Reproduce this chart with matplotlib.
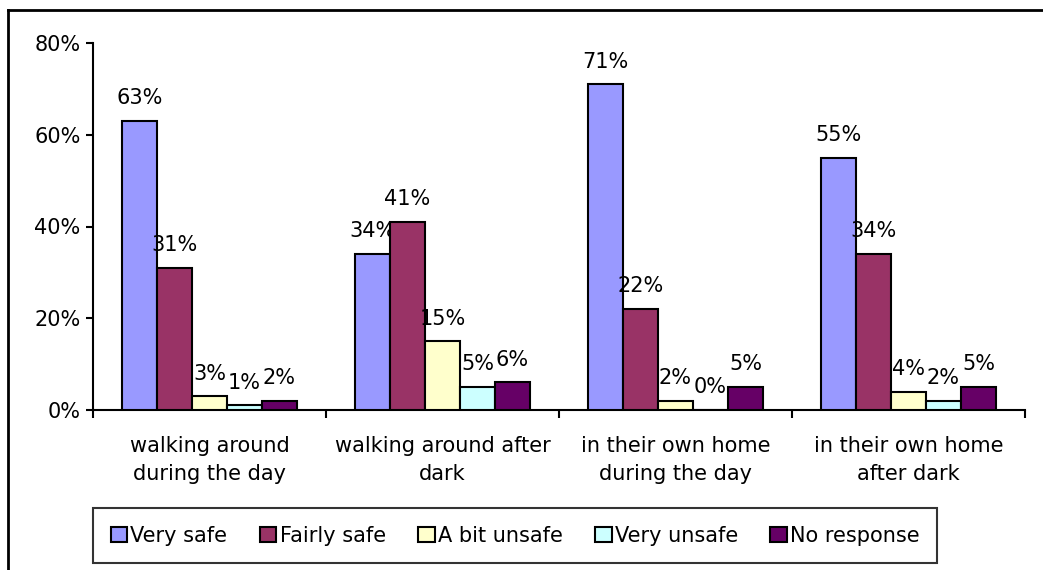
import matplotlib
matplotlib.use("Agg")
import matplotlib.pyplot as plt
import numpy as np
from matplotlib.patches import Patch
from matplotlib.lines import Line2D
from matplotlib.ticker import FixedLocator, PercentFormatter

plt.rcParams['font.family'] = ['DejaVu Sans']

categories = ["walking around\nduring the day", "walking around after\ndark",
              "in their own home\nduring the day", "in their own home\nafter dark"]
series_names = ["Very safe", "Fairly safe", "A bit unsafe", "Very unsafe", "No response"]
very_safe = [63, 34, 71, 55]
fairly_safe = [31, 41, 22, 34]
bit_unsafe = [3, 15, 2, 4]
very_unsafe = [1, 5, 0, 2]
no_response = [2, 6, 5, 5]
series_values = [very_safe, fairly_safe, bit_unsafe, very_unsafe, no_response]
colors = ["#9999FF", "#993366", "#FFFFCC", "#CCFFFF", "#660066"]
yticks = [0, 20, 40, 60, 80]

W, H = 1043, 570
fig = plt.figure(figsize=(W / 100, H / 100), dpi=100)
ax = fig.add_axes([93 / W, 1 - 410 / H, (1025 - 93) / W, (410 - 43) / H])

fs = 15
x = np.arange(len(categories))
bw = 0.15
n = len(series_names)
for i, (vals, col) in enumerate(zip(series_values, colors)):
    pos = x + (i - (n - 1) / 2) * bw
    ax.bar(pos, vals, width=bw, color=col, edgecolor="black", linewidth=1.5, zorder=3)
    for px, v in zip(pos, vals):
        ax.annotate(f"{v}%", (px, v), xytext=(0, 12), textcoords="offset points",
                    ha="center", va="baseline", fontsize=fs)

ax.set_xlim(-0.5, len(categories) - 0.5)
ax.set_ylim(0, 80)
ax.set_yticks(yticks)
ax.yaxis.set_major_formatter(PercentFormatter(decimals=0))
ax.set_xticks(x)
ax.set_xticklabels(categories, fontsize=fs, linespacing=1.45)
ax.tick_params(axis="x", which="major", length=0, pad=19)
ax.xaxis.set_minor_locator(FixedLocator(np.arange(-0.5, len(categories), 1.0)))
ax.tick_params(axis="x", which="minor", length=6, width=1.5, direction="out")
ax.tick_params(axis="y", length=5, width=1.5, direction="out", labelsize=fs, pad=4)
for s in ["top", "right"]:
    ax.spines[s].set_visible(False)
for s in ["left", "bottom"]:
    ax.spines[s].set_linewidth(1.5)

# outer chart border (top and left visible)
fig.add_artist(Line2D([8 / W, 8 / W], [0, 1 - 10 / H], transform=fig.transFigure, color="black", lw=2))
fig.add_artist(Line2D([8 / W, 1], [1 - 10 / H, 1 - 10 / H], transform=fig.transFigure, color="black", lw=2))

handles = [Patch(facecolor=c, edgecolor="black", linewidth=1.5, label=l) for c, l in zip(colors, series_names)]
leg = fig.legend(handles=handles, loc="upper left", bbox_to_anchor=(93 / W, 1 - 508 / H),
                 ncol=5, fontsize=fs, frameon=True, fancybox=False, edgecolor="black",
                 handlelength=0.8, handleheight=0.8, handletextpad=0.15, columnspacing=1.55,
                 borderpad=0.85, borderaxespad=0)
leg.get_frame().set_linewidth(1.5)

fig.savefig("out.png", dpi=100)
